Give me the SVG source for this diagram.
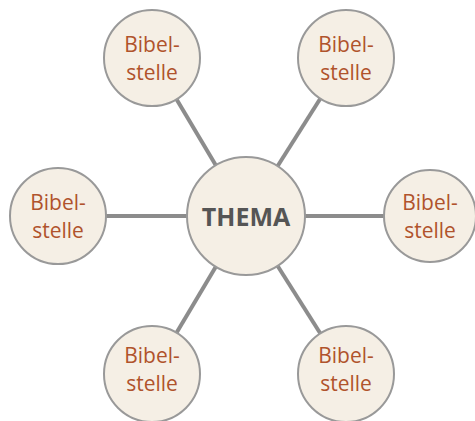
<svg xmlns="http://www.w3.org/2000/svg" width="475" height="421" viewBox="0 0 475 421">
<style>
.c{fill:#f5efe5;stroke:#999999;stroke-width:2}
.l{stroke:#8c8c8c;stroke-width:4}
.t{font-family:"Open Sans","Noto Sans",sans-serif;font-size:21px;fill:#b0532c;text-anchor:middle}
.m{font-family:"Open Sans","Noto Sans",sans-serif;font-size:25px;font-weight:bold;fill:#555555;text-anchor:middle}
</style>
<rect width="475" height="421" fill="#ffffff"/>
<g id="connectors">
<line class="l" x1="246" y1="216" x2="152" y2="58"/>
<line class="l" x1="246" y1="216" x2="346" y2="58"/>
<line class="l" x1="246" y1="216" x2="58" y2="216"/>
<line class="l" x1="246" y1="216" x2="430" y2="216"/>
<line class="l" x1="246" y1="216" x2="152" y2="374"/>
<line class="l" x1="246" y1="216" x2="346" y2="374"/>
</g>
<g id="thema"><circle class="c" cx="246" cy="216" r="59"/><text class="m" x="246" y="226">THEMA</text></g>
<g id="tl"><circle class="c" cx="152" cy="58" r="48"/><text class="t" x="152" y="52">Bibel-</text><text class="t" x="152" y="80">stelle</text></g>
<g id="tr"><circle class="c" cx="346" cy="58" r="48"/><text class="t" x="346" y="52">Bibel-</text><text class="t" x="346" y="80">stelle</text></g>
<g id="l"><circle class="c" cx="58" cy="216" r="48"/><text class="t" x="58" y="210">Bibel-</text><text class="t" x="58" y="238">stelle</text></g>
<g id="r"><circle class="c" cx="430" cy="216" r="46"/><text class="t" x="430" y="210">Bibel-</text><text class="t" x="430" y="238">stelle</text></g>
<g id="bl"><circle class="c" cx="152" cy="374" r="48"/><text class="t" x="152" y="363">Bibel-</text><text class="t" x="152" y="391">stelle</text></g>
<g id="br"><circle class="c" cx="346" cy="374" r="48"/><text class="t" x="346" y="363">Bibel-</text><text class="t" x="346" y="391">stelle</text></g>
</svg>
